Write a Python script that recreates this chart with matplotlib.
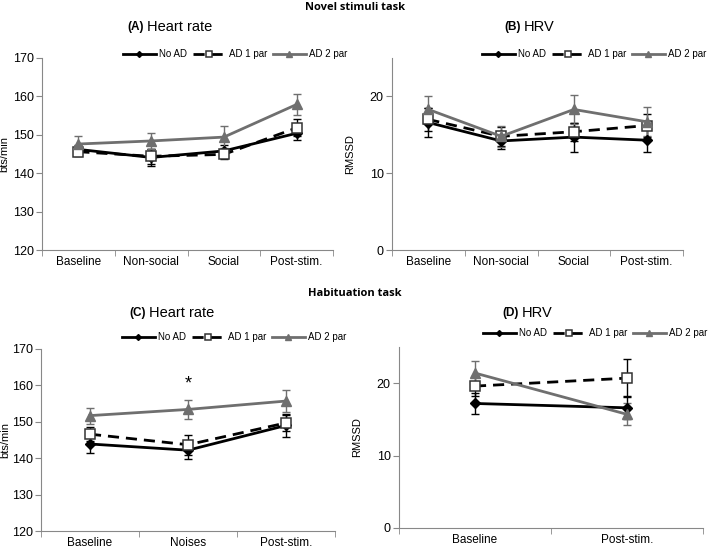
import matplotlib
matplotlib.use('Agg')
import matplotlib.pyplot as plt
import numpy as np

plt.rcParams['font.family'] = ['Liberation Sans', 'DejaVu Sans']

# ---- data ----
cats_novel = ['Baseline', 'Non-social', 'Social', 'Post-stim.']
cats_hab = ['Baseline', 'Noises', 'Post-stim.']
cats_hab_hrv = ['Baseline', 'Post-stim.']
groups = ['No AD', 'AD 1 par', 'AD 2 par']

# (A) heart rate, novel stimuli
hr_novel_noad = [146.2, 144.1, 145.8, 150.4]
hr_novel_ad1 = [145.6, 144.4, 144.9, 151.8]
hr_novel_ad2 = [147.6, 148.4, 149.4, 157.9]
hr_novel_noad_err = [1.2, 2.2, 1.5, 1.7]
hr_novel_ad1_err = [1.0, 2.0, 1.3, 2.2]
hr_novel_ad2_err = [2.2, 2.0, 2.9, 2.8]

# (B) HRV, novel stimuli
hrv_novel_noad = [16.6, 14.2, 14.7, 14.3]
hrv_novel_ad1 = [17.0, 14.8, 15.4, 16.2]
hrv_novel_ad2 = [18.3, 14.8, 18.3, 16.7]
hrv_novel_noad_err = [1.9, 1.0, 1.9, 1.6]
hrv_novel_ad1_err = [1.5, 1.2, 1.2, 1.5]
hrv_novel_ad2_err = [1.7, 1.4, 1.9, 1.9]

# (C) heart rate, habituation
hr_hab_noad = [143.9, 142.2, 149.0]
hr_hab_ad1 = [146.6, 143.7, 149.7]
hr_hab_ad2 = [151.7, 153.4, 155.7]
hr_hab_noad_err = [2.5, 2.5, 3.1]
hr_hab_ad1_err = [1.9, 2.8, 2.3]
hr_hab_ad2_err = [2.2, 2.7, 3.0]

# (D) HRV, habituation
hrv_hab_noad = [17.2, 16.6]
hrv_hab_ad1 = [19.6, 20.7]
hrv_hab_ad2 = [21.4, 15.7]
hrv_hab_noad_err = [1.4, 1.6]
hrv_hab_ad1_err = [1.4, 2.6]
hrv_hab_ad2_err = [1.7, 1.5]

W, H = 709, 548
fig = plt.figure(figsize=(W / 100, H / 100), dpi=100)


def px_axes(l, t, r, b):
    return fig.add_axes([l / W, 1 - b / H, (r - l) / W, (b - t) / H])


gray = '#6f6f6f'
styles = [
    dict(color='black', ls='-', marker='D', ms=5, mfc='black', mec='black'),
    dict(color='black', ls=(0, (4, 2.5)), marker='s', ms=7, mfc='white', mec='#333333', mew=1.1),
    dict(color=gray, ls='-', marker='^', ms=7, mfc=gray, mec=gray),
]


def panel(ax, cats, series, errs, ylim, yticks, ylabel, label_x, leg_xy):
    x = np.arange(len(cats))
    handles = []
    for s, e, st, name in zip(series, errs, styles, groups):
        ax.errorbar(x, s, yerr=e, fmt='none', ecolor=st['color'], elinewidth=1,
                    capsize=3, capthick=1, zorder=2)
        h, = ax.plot(x, s, lw=2, label=name, zorder=3, **st)
        handles.append(h)
    ax.set_xlim(-0.5, len(cats) - 0.5)
    ax.set_ylim(*ylim)
    ax.set_yticks(yticks)
    ax.set_xticks(x)
    ax.set_xticklabels(cats, fontsize=8.5)
    ax.set_xticks(np.arange(len(cats) + 1) - 0.5, minor=True)
    ax.tick_params(axis='x', which='major', length=0, pad=4)
    ax.tick_params(axis='x', which='minor', length=4, color='#888888')
    ax.tick_params(axis='y', length=4, color='#888888', labelsize=9, pad=2)
    ax.set_ylabel(ylabel, fontsize=8)
    ax.yaxis.set_label_coords(label_x, 0.5)
    for sp in ['top', 'right']:
        ax.spines[sp].set_visible(False)
    for sp in ['left', 'bottom']:
        ax.spines[sp].set_color('#888888')
    fig.legend(handles=handles, loc='center', ncol=3, frameon=False, fontsize=7,
               bbox_to_anchor=(leg_xy[0] / W, 1 - leg_xy[1] / H),
               handlelength=3.4, columnspacing=0.6, handletextpad=0.3,
               markerscale=0.6)


axA = px_axes(42, 58, 333, 250)
panel(axA, cats_novel, [hr_novel_noad, hr_novel_ad1, hr_novel_ad2],
      [hr_novel_noad_err, hr_novel_ad1_err, hr_novel_ad2_err],
      (120, 170), [120, 130, 140, 150, 160, 170], 'bts/min', -0.112, (235, 54))

axB = px_axes(392, 58, 683, 250)
panel(axB, cats_novel, [hrv_novel_noad, hrv_novel_ad1, hrv_novel_ad2],
      [hrv_novel_noad_err, hrv_novel_ad1_err, hrv_novel_ad2_err],
      (0, 25), [0, 10, 20], 'RMSSD', -0.127, (594, 54))

axC = px_axes(41, 349, 335, 531)
panel(axC, cats_hab, [hr_hab_noad, hr_hab_ad1, hr_hab_ad2],
      [hr_hab_noad_err, hr_hab_ad1_err, hr_hab_ad2_err],
      (120, 170), [120, 130, 140, 150, 160, 170], 'bts/min', -0.105, (234, 337))
axC.text(1, 160.3, '*', ha='center', va='center', fontsize=13)

axD = px_axes(399, 347, 703, 528)
panel(axD, cats_hab_hrv, [hrv_hab_noad, hrv_hab_ad1, hrv_hab_ad2],
      [hrv_hab_noad_err, hrv_hab_ad1_err, hrv_hab_ad2_err],
      (0, 25), [0, 10, 20], 'RMSSD', -0.12, (595, 333))

# titles
fig.text(355 / W, 1 - 8 / H, 'Novel stimuli task', ha='center', va='center',
         fontsize=8, fontweight='bold', family=['Open Sans', 'DejaVu Sans'])
fig.text(355 / W, 1 - 293 / H, 'Habituation task', ha='center', va='center',
         fontsize=8, fontweight='bold', family=['Open Sans', 'DejaVu Sans'])


def sub_title(x, y, tag, name):
    fig.text(x / W, 1 - y / H, tag, ha='right', va='center', fontsize=8.5, fontweight='bold')
    fig.text((x + 3) / W, 1 - y / H, name, ha='left', va='center', fontsize=10.5)


sub_title(144, 27, '(A)', 'Heart rate')
sub_title(521, 27, '(B)', 'HRV')
sub_title(146, 313, '(C)', 'Heart rate')
sub_title(519, 313, '(D)', 'HRV')

fig.savefig('out.png', dpi=100)
